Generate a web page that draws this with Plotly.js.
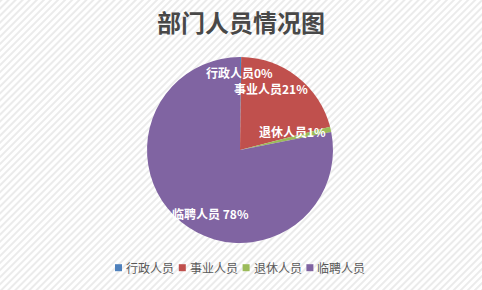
<!DOCTYPE html>
<html>
<head>
<meta charset="utf-8">
<script src="https://cdn.plot.ly/plotly-3.0.1.min.js"></script>
<style>
html,body{margin:0;padding:0;background:#f4f4f4;}
#chart{width:482px;height:290px;}
</style>
</head>
<body>
<div id="chart"></div>
<script>
// Data
var categories = ['行政人员', '事业人员', '退休人员', '临聘人员'];
var values = [0.2, 20.8, 0.9, 78.1];
var colors = ['#4F81BD', '#C0504D', '#9BBB59', '#8064A2'];
var labelSeparators = ['', '', '', ' '];

var total = values.reduce(function(a, b){ return a + b; }, 0);
var pctText = values.map(function(v){ return Math.round(v / total * 100) + '%'; });

// layout geometry (pixels)
var W = 482, H = 290, ML = 0, MR = 2, MT = 57, MB = 47;
var PW = W - ML - MR, PH = H - MT - MB;
function px2x(px){ return (px - ML) / PW; }
function py2y(py){ return (H - MB - py) / PH; }

// label anchor points (pixel centres) for data labels
var labelPos = [[239.5, 72], [271, 88], [292.5, 131], [210, 213]];

var fontFam = '"Noto Sans CJK SC", "Noto Sans", sans-serif';

var annotations = categories.map(function(c, i){
  return {
    text: '<b>' + c + labelSeparators[i] + pctText[i] + '</b>',
    x: px2x(labelPos[i][0]), y: py2y(labelPos[i][1]), xref: 'paper', yref: 'paper',
    xanchor: 'center', yanchor: 'middle', showarrow: false,
    font: {family: fontFam, size: 12, color: '#ffffff'}
  };
});

// custom legend (Excel style, compact)
var legStart = 115, legStep = 63.8, legY = 267.7, sq = 7;
var shapes = [];
categories.forEach(function(c, i){
  var mx = legStart + i * legStep;
  shapes.push({
    type: 'rect', xref: 'paper', yref: 'paper',
    x0: px2x(mx), x1: px2x(mx + sq), y0: py2y(legY - sq/2), y1: py2y(legY + sq/2),
    fillcolor: colors[i], line: {width: 0}
  });
  annotations.push({
    text: c, x: px2x(mx + 10), y: py2y(legY), xref: 'paper', yref: 'paper',
    xanchor: 'left', yanchor: 'middle', showarrow: false, borderpad: 0,
    font: {family: fontFam, size: 12, color: '#595959'}
  });
});

var svg = '<svg xmlns="http://www.w3.org/2000/svg" width="482" height="290">' +
  '<defs><pattern id="p" width="5" height="5" patternUnits="userSpaceOnUse" patternTransform="rotate(45)">' +
  '<rect width="5" height="5" fill="#ffffff"/><rect width="2" height="5" fill="#ebebeb"/></pattern></defs>' +
  '<rect width="482" height="290" fill="url(#p)"/></svg>';
var bgSrc = 'data:image/svg+xml;base64,' + btoa(svg);

var trace = {
  type: 'pie',
  labels: categories,
  values: values,
  sort: false,
  direction: 'clockwise',
  rotation: 0,
  textinfo: 'none',
  hoverinfo: 'label+percent',
  marker: {colors: colors, line: {width: 0}}
};

var layout = {
  width: W, height: H,
  margin: {l: ML, r: MR, t: MT, b: MB},
  paper_bgcolor: '#f4f4f4',
  plot_bgcolor: 'rgba(0,0,0,0)',
  title: {
    text: '<b>部门人员情况图</b>',
    x: 0.5, xanchor: 'center', y: 0.917, yanchor: 'middle', yref: 'container',
    font: {family: fontFam, size: 24, color: '#484848'}
  },
  showlegend: false,
  annotations: annotations,
  shapes: shapes,
  images: [{
    source: bgSrc, xref: 'paper', yref: 'paper',
    x: px2x(0), y: py2y(0), sizex: W / PW, sizey: H / PH,
    xanchor: 'left', yanchor: 'top', sizing: 'stretch', layer: 'below'
  }]
};

Plotly.newPlot('chart', [trace], layout, {displayModeBar: false, staticPlot: true});
</script>
</body>
</html>
